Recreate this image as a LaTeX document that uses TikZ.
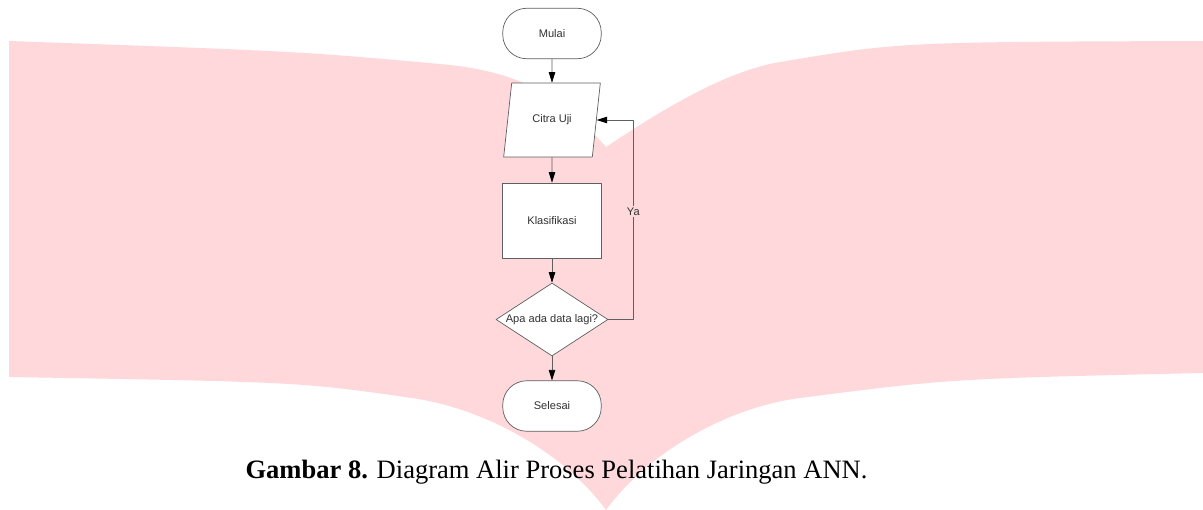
\documentclass[tikz,border=0pt]{standalone}
\usepackage{fontspec}
\setmainfont{Liberation Serif}
\newfontfamily\flowfont{Liberation Sans}
\usetikzlibrary{shapes.geometric,arrows.meta}
\definecolor{wm}{RGB}{254,216,219}
\definecolor{garis}{RGB}{95,95,95}
\definecolor{teks}{RGB}{50,50,50}
\begin{document}
\begin{tikzpicture}[x=0.02cm,y=-0.02cm,>={Triangle[length=2.1mm,width=1.3mm,color=black]},line join=round,
font={\flowfont\fontsize{6.3pt}{7.5pt}\selectfont},text=teks,
terminal/.style={draw=garis,fill=white,rounded corners=0.48cm,minimum width=1.97cm,minimum height=1.01cm},
io/.style={draw=garis,fill=white,trapezium,trapezium left angle=77,trapezium right angle=103,trapezium stretches=true,minimum width=1.94cm,minimum height=1.48cm},
proses/.style={draw=garis,fill=white,minimum width=1.98cm,minimum height=1.5cm},
cek/.style={draw=garis,fill=white,diamond,aspect=1.5,inner sep=0pt,minimum width=2.24cm,minimum height=1.46cm},
panah/.style={draw=garis,->}]
\useasboundingbox (0,0) rectangle (1203,510);
% watermark
\fill[wm] (9,41) .. controls (300,51.4) .. (440,64)
 .. controls (520,71.2) and (560,95) .. (606,147)
 .. controls (650,118) and (720,72) .. (780,62)
 .. controls (900,42) .. (1203,41) -- (1203,373)
 .. controls (950,378.7) .. (800,398)
 .. controls (730,407) and (650,450) .. (606,510)
 .. controls (562,450) and (482,408) .. (412,398)
 .. controls (300,382) .. (9,377) -- cycle;
% flowchart
\node[terminal] (mulai) at (552,33.5) {Mulai};
\node[io] (citra) at (552,120) {Citra Uji};
\node[proses] (klas) at (552,220.5) {Klasifikasi};
\node[cek] (lagi) at (552,319.5) {Apa ada data lagi?};
\node[terminal] (selesai) at (552,406) {Selesai};
\draw[panah] (mulai)--(citra);
\draw[panah] (citra)--(klas);
\draw[panah] (klas)--(lagi);
\draw[panah] (lagi)--(selesai);
\draw[panah] (lagi.east)--++(0.5cm,0)|-(citra.east)
 node[pos=0.27,fill=wm,inner sep=1pt]{Ya};
\node[anchor=base,font=\fontsize{15.1pt}{18pt}\selectfont,text=black] (judul) at (556.5,478.5)
 {\textbf{Gambar 8.} Diagram Alir Proses Pelatihan Jaringan ANN.};
\end{tikzpicture}
\end{document}
